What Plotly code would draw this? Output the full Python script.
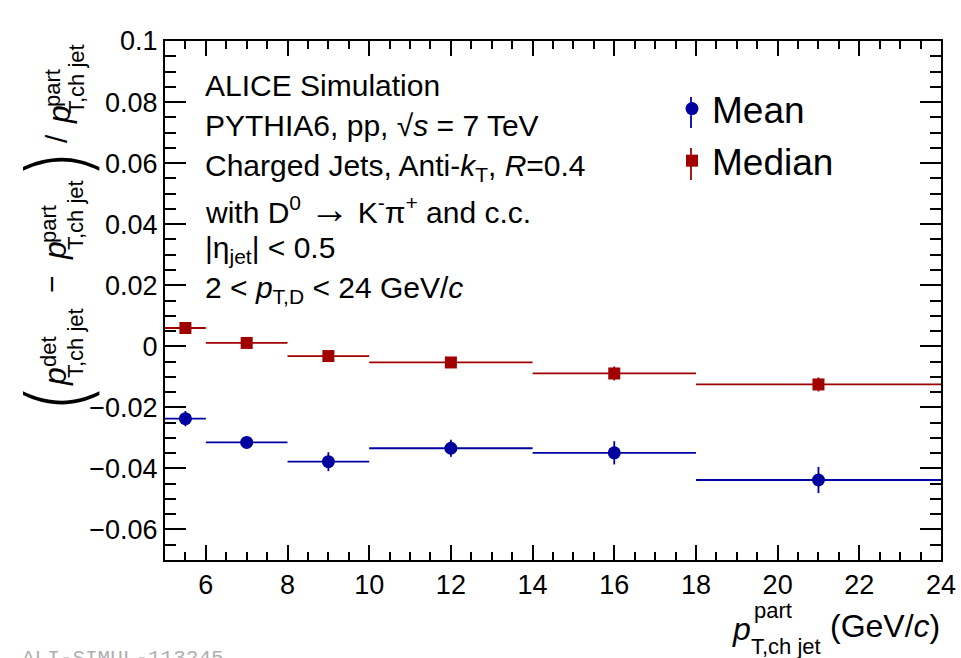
import plotly.graph_objects as go

# Bin centres and edges along p_T^part (GeV/c)
pt_centres = [5.5, 7, 9, 12, 16, 21]
bin_lo = [5, 6, 8, 10, 14, 18]
bin_hi = [6, 8, 10, 14, 18, 24]

# Relative jet momentum shift, mean and median
mean_vals = [-0.0237, -0.0315, -0.0378, -0.0334, -0.0349, -0.0438]
mean_errs = [0.0025, 0.0015, 0.0031, 0.0028, 0.0038, 0.0043]
median_vals = [0.0060, 0.0011, -0.0032, -0.0053, -0.0089, -0.0125]
median_errs = [0.0010, 0.0012, 0.0015, 0.0015, 0.0023, 0.0023]

y_ticks = [-0.06, -0.04, -0.02, 0, 0.02, 0.04, 0.06, 0.08, 0.1]
y_ticktext = ["\u22120.06", "\u22120.04", "\u22120.02", "0", "0.02", "0.04", "0.06", "0.08", "0.1"]
x_ticks = [6, 8, 10, 12, 14, 16, 18, 20, 22, 24]

W, H = 961, 658
FONT = "Liberation Sans, Arial, sans-serif"
THIN = "Inter, DejaVu Sans, sans-serif"
BLUE = "#0000a0"
RED = "#a00000"

err_plus = [h - c for c, h in zip(pt_centres, bin_hi)]
err_minus = [c - l for c, l in zip(pt_centres, bin_lo)]

fig = go.Figure()
fig.add_trace(go.Scatter(
    x=pt_centres, y=mean_vals, mode="markers", name="Mean",
    legendgroup="mean",
    marker=dict(symbol="circle", size=13, color=BLUE),
    error_x=dict(type="data", symmetric=False, array=err_plus, arrayminus=err_minus,
                 color=BLUE, thickness=1.8, width=0),
    error_y=dict(type="data", array=mean_errs, color=BLUE, thickness=1.8, width=0),
))
fig.add_trace(go.Scatter(
    x=pt_centres, y=median_vals, mode="markers", name="Median",
    legendgroup="median",
    marker=dict(symbol="square", size=12, color=RED),
    error_x=dict(type="data", symmetric=False, array=err_plus, arrayminus=err_minus,
                 color=RED, thickness=1.8, width=0),
    error_y=dict(type="data", array=median_errs, color=RED, thickness=1.8, width=0),
))


def px(x):
    return x / W


def py(y):
    return 1 - y / H


ann = []


def text(s, x, y, size, angle=0, xanchor="center", yanchor="middle", color="black",
         family=FONT, weight=None):
    f = dict(size=size, color=color, family=family)
    if weight is not None:
        f["weight"] = weight
    ann.append(dict(text=s, x=px(x), y=py(y), xref="paper", yref="paper",
                    showarrow=False, textangle=angle, xanchor=xanchor, yanchor=yanchor,
                    font=f))


# Information block
info_lines = [
    "ALICE Simulation",
    "PYTHIA6, pp, \u221a<i>s</i> = 7 TeV",
    "Charged Jets, Anti-<i>k</i><sub>T</sub>, <i>R</i>=0.4",
    "with D<sup>0</sup> <span style=\"font-size:40px\">\u2192</span> "
    "K<sup>-</sup>\u03c0<sup>+</sup> and c.c.",
    "|\u03b7<sub>jet</sub>| < 0.5",
    "2 < <i>p</i><sub>T,D</sub> < 24 GeV/<i>c</i>",
]
info_y = [85, 126, 167, 209, 249, 290]
for s, yy in zip(info_lines, info_y):
    text(s, 203, yy, 30, xanchor="left")

# Y-axis title, built from rotated pieces
text("(", 57, 400, 84, angle=-90, family=THIN, weight=200)
text("<i>p</i>", 55, 377, 32, angle=-90)
text("det", 48, 352, 22, angle=-90)
text("T,ch jet", 75, 343, 22, angle=-90)
text("\u2212", 51, 284, 30, angle=-90)
text("<i>p</i>", 55, 251, 32, angle=-90)
text("part", 48, 224, 22, angle=-90)
text("T,ch jet", 75, 215, 22, angle=-90)
text(")", 57, 162, 84, angle=-90, family=THIN, weight=200)
text("/", 56, 139, 30, angle=-90)
text("<i>p</i>", 59, 115, 32, angle=-90)
text("part", 52, 88, 22, angle=-90)
text("T,ch jet", 77, 79, 22, angle=-90)

# X-axis title
text("<i>p</i>", 741, 629, 32)
text("part", 773, 610, 22)
text("T,ch jet", 786, 646, 22)
text("(GeV/<i>c</i>)", 885, 626, 32)

# Figure identifier
text("ALI-SIMUL-113245", 20, 645, 21, xanchor="left", yanchor="top",
     color="#b0b0b0", family="Liberation Mono, Courier New, monospace")

# Vertical error strokes on the legend symbols
legend_bars = [
    dict(type="line", xref="paper", yref="paper", x0=px(691), x1=px(691),
         y0=py(97), y1=py(128), line=dict(color=BLUE, width=1.8), layer="above"),
    dict(type="line", xref="paper", yref="paper", x0=px(691), x1=px(691),
         y0=py(148), y1=py(180), line=dict(color=RED, width=1.8), layer="above"),
]

axis_common = dict(
    showgrid=False, zeroline=False, showline=True, linecolor="black", linewidth=2,
    mirror="allticks", ticks="inside", tickcolor="black", tickwidth=1.5,
    tickfont=dict(family=FONT, size=27, color="black"),
    automargin=False,
)

fig.update_layout(
    width=W, height=H,
    margin=dict(l=0, r=0, t=0, b=0, autoexpand=False),
    paper_bgcolor="white", plot_bgcolor="white",
    xaxis=dict(
        domain=[165 / W, 941 / W], range=[5, 24],
        tickvals=x_ticks, ticklen=15,
        minor=dict(dtick=0.5, ticklen=8, ticks="inside", tickcolor="black", tickwidth=1.5),
        ticklabelstandoff=0,
        **axis_common,
    ),
    yaxis=dict(
        domain=[1 - 560 / H, 1 - 41 / H], range=[-0.07, 0.1],
        tickvals=y_ticks, ticktext=y_ticktext, ticklen=21,
        minor=dict(dtick=0.005, ticklen=11, ticks="inside", tickcolor="black", tickwidth=1.5),
        ticklabelstandoff=0,
        **axis_common,
    ),
    showlegend=True,
    legend=dict(
        x=px(672), y=py(78), xanchor="left", yanchor="top",
        font=dict(family=FONT, size=37, color="black"),
        bgcolor="rgba(0,0,0,0)", traceorder="grouped", tracegroupgap=1,
        itemwidth=30,
    ),
    shapes=legend_bars,
    annotations=ann,
)

fig.write_html("out.html")
